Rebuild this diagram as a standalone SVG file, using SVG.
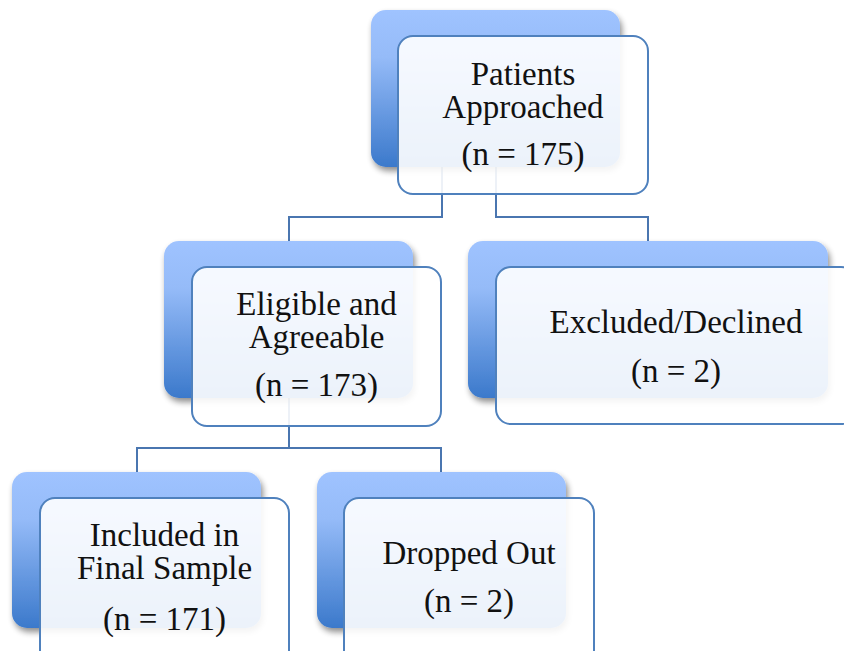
<svg xmlns="http://www.w3.org/2000/svg" width="844" height="651" viewBox="0 0 844 651">
<defs>
<linearGradient id="bg" x1="0" y1="0" x2="0" y2="1">
<stop offset="0" stop-color="#9fc3ff"/>
<stop offset="0.3" stop-color="#95bbf8"/>
<stop offset="1" stop-color="#3b79cb"/>
</linearGradient>
<filter id="sh" x="-10%" y="-10%" width="125%" height="130%">
<feGaussianBlur in="SourceAlpha" stdDeviation="3"/>
<feOffset dx="2" dy="4" result="b"/>
<feComponentTransfer><feFuncA type="linear" slope="0.45"/></feComponentTransfer>
<feMerge><feMergeNode/><feMergeNode in="SourceGraphic"/></feMerge>
</filter>
</defs>
<style>
.back{fill:url(#bg);filter:url(#sh)}
.front{fill:#ffffff;fill-opacity:0.9;stroke:#4f81bd;stroke-width:2}
.conn{fill:none;stroke:#4a76b0;stroke-width:2}
text{font-family:"Liberation Serif","Times New Roman",serif;font-size:33px;fill:#111;text-anchor:middle}
</style>
<g id="connectors">
<polyline class="conn" points="442,167 442,217 289,217 289,241"/>
<polyline class="conn" points="496,167 496,217 648,217 648,241"/>
<polyline class="conn" points="289,398 289,448 137,448 137,472"/>
<polyline class="conn" points="289,448 441,448 441,472"/>
</g>
<g id="node-approached">
<rect class="back" x="371" y="10" width="249" height="157" rx="15"/>
<rect class="front" x="398" y="36" width="250" height="158" rx="15"/>
<text x="523" y="85">Patients</text>
<text x="523" y="118">Approached</text>
<text x="523" y="165">(n = 175)</text>
</g>
<g id="node-eligible">
<rect class="back" x="164" y="241" width="249" height="157" rx="15"/>
<rect class="front" x="192" y="267" width="249" height="159" rx="15"/>
<text x="316.5" y="315">Eligible and</text>
<text x="316.5" y="348">Agreeable</text>
<text x="316.5" y="396">(n = 173)</text>
</g>
<g id="node-excluded">
<rect class="back" x="468" y="241" width="360" height="157" rx="15"/>
<rect class="front" x="496" y="267" width="360" height="157" rx="15"/>
<text x="676" y="333">Excluded/Declined</text>
<text x="676" y="382">(n = 2)</text>
</g>
<g id="node-included">
<rect class="back" x="12" y="472" width="249" height="156" rx="15"/>
<rect class="front" x="40" y="498" width="249" height="170" rx="15"/>
<text x="164.5" y="546">Included in</text>
<text x="164.5" y="579">Final Sample</text>
<text x="164.5" y="630">(n = 171)</text>
</g>
<g id="node-dropped">
<rect class="back" x="317" y="472" width="249" height="156" rx="15"/>
<rect class="front" x="344" y="498" width="250" height="170" rx="15"/>
<text x="469" y="564">Dropped Out</text>
<text x="469" y="612">(n = 2)</text>
</g>
</svg>
